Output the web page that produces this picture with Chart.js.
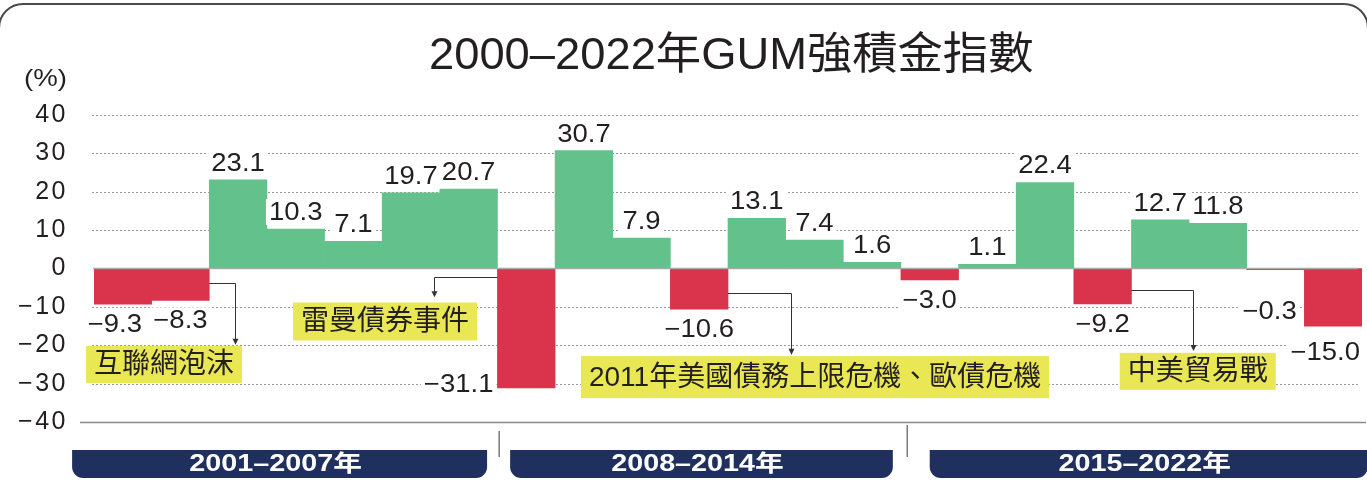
<!DOCTYPE html>
<html><head><meta charset="utf-8">
<script src="https://cdn.jsdelivr.net/npm/chart.js@4.4.1/dist/chart.umd.min.js"></script>
<style>html,body{margin:0;padding:0;background:#fff;overflow:hidden}#wrap{position:relative;width:1367px;height:494px}canvas{display:block}</style>
</head><body><div id="wrap"><canvas id="c" width="1367" height="494"></canvas></div>
<script>
// ---------------- DATA ----------------
const years = [2001,2002,2003,2004,2005,2006,2007,2008,2009,2010,2011,2012,2013,2014,2015,2016,2017,2018,2019,2020,2021,2022];
const values = [-9.3,-8.3,23.1,10.3,7.1,19.7,20.7,-31.1,30.7,7.9,-10.6,13.1,7.4,1.6,-3.0,1.1,22.4,-9.2,12.7,11.8,-0.3,-15.0];
const yTicks = [-40,-30,-20,-10,0,10,20,30,40];
const periodLabels = ['2001–2007年','2008–2014年','2015–2022年'];
const eventLabels = ['互聯網泡沫','雷曼債券事件','2011年美國債務上限危機、歐債危機','中美貿易戰'];
const titleText = '2000–2022年GUM強積金指數';
const unitText = '(%)';

// ---------------- LAYOUT / STYLE ----------------
const GREEN = '#63c28c', RED = '#d9344b', NAVY = '#1f305f', YELLOW = '#e9e854', INK = '#231f20';
const LATIN = '"Liberation Sans", Arial, Helvetica, sans-serif';
const CJK = '"Liberation Sans", "Noto Sans CJK TC", "Noto Sans CJK SC", sans-serif';
// annotation anchors in data units (category index / value)
const eventLayout = [
  {bar:1,  side:'right', fromV:-3.8, cornerX:1.95,  toV:-19.9, boxX:0.715, boxV:-25.0, boxH:37},
  {bar:7,  side:'left',  fromV:-2.2, cornerX:5.40,  toV:-7.5,  boxX:4.55,  boxV:-13.8, boxH:38},
  {bar:10, side:'right', fromV:-6.4, cornerX:11.59, toV:-22.5, boxX:12.01, boxV:-28.3, boxH:42},
  {bar:17, side:'right', fromV:-5.6, cornerX:18.57, toV:-21.5, boxX:18.65, boxV:-26.8, boxH:37}
];
const periodLayout = [[-0.88, 6.32], [6.72, 13.36], [14.0, 21.6]];
const dividerLayout = [6.53, 13.61];
const labelTweak = {0:{dx:-8}, 7:{side:'left', dy:-4}, 20:{dy:41, dx:-6}, 21:{dy:26, dx:-8}};

function sText(ctx, s, x, y, align, sx) {
  ctx.save(); ctx.translate(x, y); ctx.scale(sx, 1); ctx.textAlign = align; ctx.fillText(s, 0, 0); ctx.restore();
}
function fmt(v) { return (v < 0 ? '−' : '') + Math.abs(v).toFixed(1); }

const deco = {
  id: 'deco',
  beforeDraw(chart) {
    const ctx = chart.ctx;
    ctx.save();
    ctx.fillStyle = '#fff'; ctx.fillRect(0, 0, chart.width, chart.height);
    // frame
    ctx.strokeStyle = '#4a4a4a'; ctx.lineWidth = 2;
    ctx.beginPath(); ctx.roundRect(-1, 4, 1369, 600, 24); ctx.stroke();
    // title
    ctx.fillStyle = INK; ctx.textBaseline = 'middle';
    ctx.font = '44px ' + CJK;
    sText(ctx, titleText, 429, 57, 'left', 1.03);
    ctx.font = '24px ' + LATIN;
    sText(ctx, unitText, 24, 79, 'left', 1.15);
    ctx.restore();
    ctx.letterSpacing = '2.5px';
  },
  beforeDatasetsDraw(chart) {
    const ctx = chart.ctx; ctx.letterSpacing = '0px';
    const y = chart.scales.y;
    ctx.save();
    ctx.lineWidth = 1;
    yTicks.forEach(t => {
      const py = Math.round(y.getPixelForValue(t)) + 0.5;
      if (t === 0) return;
      ctx.beginPath();
      if (t === -40) {
        ctx.setLineDash([]); ctx.strokeStyle = '#8a8a8a'; ctx.lineWidth = 1.5;
        ctx.moveTo(80, py); ctx.lineTo(1366, py);
      } else {
        ctx.setLineDash([2, 2]); ctx.strokeStyle = '#9a9a9a'; ctx.lineWidth = 1;
        ctx.moveTo(92, py); ctx.lineTo(1358, py);
      }
      ctx.stroke();
    });
    ctx.restore();
  },
  afterDatasetsDraw(chart) {
    const ctx = chart.ctx;
    const xs = chart.scales.x, ys = chart.scales.y;
    const meta = chart.getDatasetMeta(0);
    ctx.save();
    // zero line
    const zy = ys.getPixelForValue(0);
    ctx.strokeStyle = '#a9a9a9'; ctx.lineWidth = 1.5; ctx.setLineDash([]);
    ctx.beginPath(); ctx.moveTo(93, zy); ctx.lineTo(1358, zy); ctx.stroke();

    // value labels
    ctx.font = '25px ' + LATIN; ctx.textBaseline = 'middle';
    const SX = 1.1;
    meta.data.forEach((bar, i) => {
      const v = values[i];
      const p = bar.getProps(['x', 'y', 'width'], true);
      const tw = ctx.measureText(fmt(v)).width * SX;
      const tk = labelTweak[i] || {};
      let tx = p.x + (tk.dx || 0), ty, align = 'center';
      if (tk.side === 'left') { align = 'right'; tx = p.x - p.width / 2 - 4; ty = p.y + (tk.dy || 0); }
      else if (v >= 0) ty = p.y - 17 + (tk.dy || 0);
      else ty = p.y + (tk.dy != null ? tk.dy : 20);
      const left = align === 'center' ? tx - tw / 2 : tx - tw;
      ctx.fillStyle = '#fff';
      ctx.fillRect(left - 3, ty - 13, tw + 6, 26);
      ctx.fillStyle = INK;
      sText(ctx, fmt(v), tx, ty + 1, align, SX);
    });

    // event callouts
    eventLabels.forEach((label, k) => {
      const L = eventLayout[k];
      const bar = meta.data[L.bar].getProps(['x', 'width'], true);
      const sx0 = L.side === 'right' ? bar.x + bar.width / 2 : bar.x - bar.width / 2;
      const sy = ys.getPixelForValue(L.fromV);
      const cx = xs.getPixelForValue(L.cornerX);
      const ey = ys.getPixelForValue(L.toV);
      ctx.strokeStyle = '#333'; ctx.lineWidth = 1;
      ctx.beginPath(); ctx.moveTo(sx0, Math.round(sy) + 0.5); ctx.lineTo(Math.round(cx) + 0.5, Math.round(sy) + 0.5);
      ctx.lineTo(Math.round(cx) + 0.5, ey - 5); ctx.stroke();
      ctx.fillStyle = '#333';
      ctx.beginPath(); ctx.moveTo(Math.round(cx) + 0.5 - 3, ey - 6); ctx.lineTo(Math.round(cx) + 3.5, ey - 6); ctx.lineTo(Math.round(cx) + 0.5, ey); ctx.closePath(); ctx.fill();
      // box
      ctx.font = '28px ' + CJK;
      const tw = ctx.measureText(label).width;
      const bw = tw + 16;
      const bx = xs.getPixelForValue(L.boxX);
      const by = ys.getPixelForValue(L.boxV);
      ctx.fillStyle = YELLOW;
      ctx.fillRect(bx - bw / 2, by - L.boxH / 2, bw, L.boxH);
      ctx.fillStyle = INK; ctx.textBaseline = 'middle'; ctx.textAlign = 'center';
      ctx.fillText(label, bx, by + 1);
    });

    // dividers
    ctx.strokeStyle = '#7a7a7a'; ctx.lineWidth = 1.5;
    dividerLayout.forEach((d, k) => {
      const dx = xs.getPixelForValue(d);
      ctx.beginPath(); ctx.moveTo(dx, k === 0 ? 431 : 425); ctx.lineTo(dx, 457); ctx.stroke();
    });

    // period bars
    periodLabels.forEach((label, k) => {
      const x0 = xs.getPixelForValue(periodLayout[k][0]);
      const x1 = xs.getPixelForValue(periodLayout[k][1]);
      ctx.fillStyle = NAVY;
      ctx.beginPath(); ctx.roundRect(x0, 450, x1 - x0, 28, [0, 0, 11, 11]); ctx.fill();
      ctx.fillStyle = '#fff'; ctx.font = 'bold 23px ' + CJK; ctx.textBaseline = 'middle';
      sText(ctx, label, (x0 + x1) / 2 - 4, 465, 'center', 1.25);
    });
    ctx.restore();
  }
};

new Chart(document.getElementById('c'), {
  type: 'bar',
  data: {
    labels: years.map(String),
    datasets: [{
      data: values,
      backgroundColor: values.map(v => v >= 0 ? GREEN : RED),
      barPercentage: 1, categoryPercentage: 1, borderWidth: 0
    }]
  },
  options: {
    responsive: false, animation: false, devicePixelRatio: 1,
    layout: { padding: { top: 115, bottom: 72, left: 0, right: 5 } },
    plugins: { legend: { display: false }, tooltip: { enabled: false } },
    scales: {
      x: { display: false },
      y: {
        min: -40, max: 40,
        afterFit(s) { s.width = 94; },
        afterBuildTicks(s) { s.ticks = yTicks.map(v => ({ value: v })); },
        grid: { display: false, drawTicks: false },
        border: { display: false },
        ticks: {
          padding: 26, color: INK,
          font: { family: 'Liberation Sans', size: 25 },
          callback: v => (v < 0 ? '−' : '') + Math.abs(v)
        }
      }
    }
  },
  plugins: [deco]
});
</script>
</body></html>
